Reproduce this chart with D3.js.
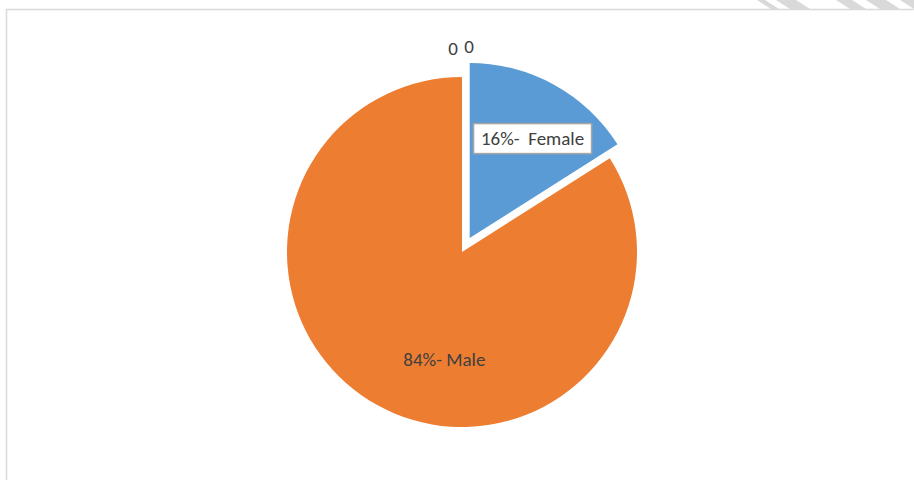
<!DOCTYPE html>
<html>
<head>
<meta charset="utf-8">
<script src="https://cdn.jsdelivr.net/npm/d3@7"></script>
<style>
  body { margin: 0; background: #fff; }
  svg { display: block; font-family: Carlito, Calibri, Lato, "Liberation Sans", sans-serif; }
</style>
</head>
<body>
<svg width="914" height="480"></svg>
<script>
(function (d3) {
  'use strict';

  // data
  const categories = ['', ' ', 'Female', 'Male'];
  const values = [0, 0, 16, 84];
  const labels = ['0', '0', '16%-  Female', '84%- Male'];
  const colors = ['#5b9bd5', '#ed7d31', '#5b9bd5', '#ed7d31'];

  const svg = d3.select('svg');
  const width = +svg.attr('width');
  const height = +svg.attr('height');

  // faint stripes at top right (page background)
  const stripes = svg.append('g').attr('fill', '#d9d9d9');
  [[757, 8], [776, 20], [836, 16], [866, 20], [900, 20]].forEach(([x0, w]) => {
    stripes.append('path')
      .attr('d', `M${x0},0 L${x0 + w},0 L${x0 + w + 14},9 L${x0 + 14},9 Z`);
  });

  // chart frame
  svg.append('path')
    .attr('d', `M6.5,${height} L6.5,9.5 L${width},9.5`)
    .attr('fill', 'none')
    .attr('stroke', '#d9d9d9')
    .attr('stroke-width', 1.5);

  const cx = 462, cy = 252, radius = 175, explode = 16;
  const fontSize = 19;

  const data = categories.map((c, i) => ({ cat: c, value: values[i], label: labels[i], color: colors[i] }));

  const pie = d3.pie().sort(null).value(d => d.value);
  const arcs = pie(data);
  const arc = d3.arc().innerRadius(0).outerRadius(radius);

  const g = svg.append('g').attr('transform', `translate(${cx},${cy})`);

  const mid = d => (d.startAngle + d.endAngle) / 2;
  const polar = (a, r) => [Math.sin(a) * r, -Math.cos(a) * r];

  const offset = d => d.data.cat === 'Female' ? polar(mid(d), explode) : [0, 0];

  g.selectAll('path.slice')
    .data(arcs.filter(d => d.value > 0))
    .enter().append('path')
      .attr('class', 'slice')
      .attr('transform', d => `translate(${offset(d)})`)
      .attr('d', arc)
      .attr('fill', d => d.data.color);

  // zero labels above the top
  const zeros = arcs.filter(d => d.value === 0);
  g.selectAll('text.zero')
    .data(zeros)
    .enter().append('text')
      .attr('class', 'zero')
      .attr('x', (d, i) => polar(mid(d), radius + 28)[0] + (i === 0 ? -9 : 7))
      .attr('y', (d, i) => polar(mid(d), radius + 28)[1] + (i === 0 ? 6 : 4))
      .attr('text-anchor', 'middle')
      .attr('font-size', fontSize)
      .attr('fill', '#404040')
      .text(d => d.data.label);

  // female label with box
  const fem = arcs.find(d => d.data.cat === 'Female');
  const fo = offset(fem);
  const fp = polar(mid(fem), 118);
  const fx = fo[0] + fp[0] + 6, fy = fo[1] + fp[1] + 4;
  const fg = g.append('g').attr('transform', `translate(${fx},${fy})`);
  fg.append('rect')
    .attr('x', -59)
    .attr('y', -15)
    .attr('width', 118)
    .attr('height', 30)
    .attr('fill', '#fff')
    .attr('stroke', '#a6a6a6')
    .attr('stroke-width', 1.5);
  fg.append('text')
    .attr('text-anchor', 'middle')
    .attr('dy', '0.35em')
    .attr('font-size', fontSize)
    .attr('fill', '#404040')
    .style('white-space', 'pre')
    .text(fem.data.label);

  // male label
  const male = arcs.find(d => d.data.cat === 'Male');
  const mp = polar(mid(male) - 0.34, 109);
  g.append('text')
    .attr('x', mp[0])
    .attr('y', mp[1])
    .attr('dy', '0.35em')
    .attr('text-anchor', 'middle')
    .attr('font-size', fontSize)
    .attr('fill', '#404040')
    .text(male.data.label);

}(d3));
</script>
</body>
</html>
